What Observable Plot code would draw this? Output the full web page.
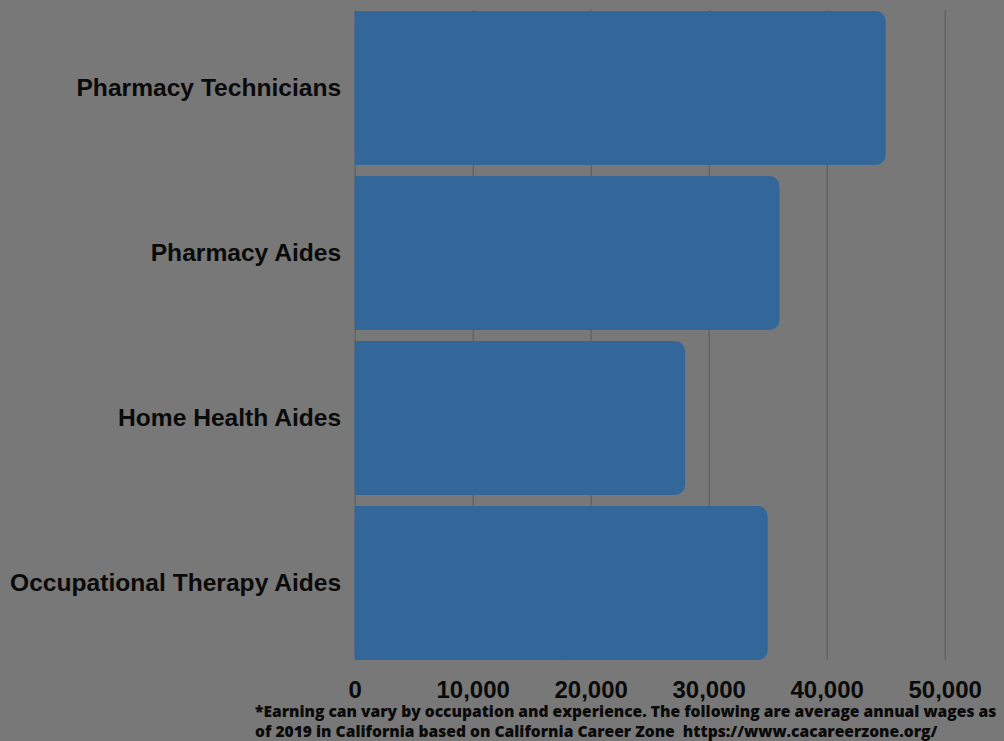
<!DOCTYPE html>
<html>
<head>
<meta charset="utf-8">
<script src="https://cdn.jsdelivr.net/npm/d3@7"></script>
<script src="https://cdn.jsdelivr.net/npm/@observablehq/plot@0.6"></script>
<style>
  html, body { margin: 0; padding: 0; background: #787878; }
  #wrap { position: relative; width: 1004px; height: 741px; overflow: hidden; background: #787878; }
  #chart svg { display: block; }
  #caption {
    position: absolute; left: 255px; top: 701px;
    font-family: "Open Sans", sans-serif; font-weight: 800; font-size: 15.6px;
    line-height: 20px; color: #0a0a0a; white-space: pre; letter-spacing: 0px;
  }
</style>
</head>
<body>
<div id="wrap"><div id="chart"></div><div id="caption"></div></div>
<script>
const occupations = ["Pharmacy Technicians", "Pharmacy Aides", "Home Health Aides", "Occupational Therapy Aides"];
const wages = [45000, 36000, 28000, 35000];
const xTicks = [0, 10000, 20000, 30000, 40000, 50000];
const captionLines = [
  "*Earning can vary by occupation and experience. The following are average annual wages as",
  "of 2019 in California based on California Career Zone  https://www.cacareerzone.org/"
];

const data = occupations.map((name, i) => ({name, wage: wages[i]}));

const chart = Plot.plot({
  width: 1004,
  height: 741,
  marginLeft: 354.7,
  marginRight: 59.3,
  marginTop: 10,
  marginBottom: 81,
  style: {background: "#787878", color: "#0a0a0a", fontFamily: "'Liberation Sans', Arial, sans-serif"},
  x: {domain: [0, 50000], ticks: xTicks, tickFormat: d3.format(","), label: null},
  y: {domain: occupations, paddingInner: 0.068, paddingOuter: 0, label: null},
  marks: [
    Plot.ruleX(xTicks, {stroke: "#5a5a5a", strokeWidth: 1}),
    Plot.barX(data, {y: "name", x: "wage", fill: "#336699", rx: 10}),
    Plot.barX(data, {y: "name", x1: 0, x2: d => d.wage / 2, fill: "#336699"}),
    Plot.axisX({ticks: xTicks, tickFormat: d3.format(","), tickSize: 0, tickPadding: 20, fontSize: 24, fontWeight: "bold", label: null}),
    Plot.axisY({tickSize: 0, tickPadding: 14, fontSize: 24.6, fontWeight: "bold", label: null})
  ]
});
chart.querySelectorAll("text").forEach(t => t.setAttribute("fill", "#0a0a0a"));
document.getElementById("chart").appendChild(chart);
document.getElementById("caption").textContent = captionLines.join("\n");
</script>
</body>
</html>
